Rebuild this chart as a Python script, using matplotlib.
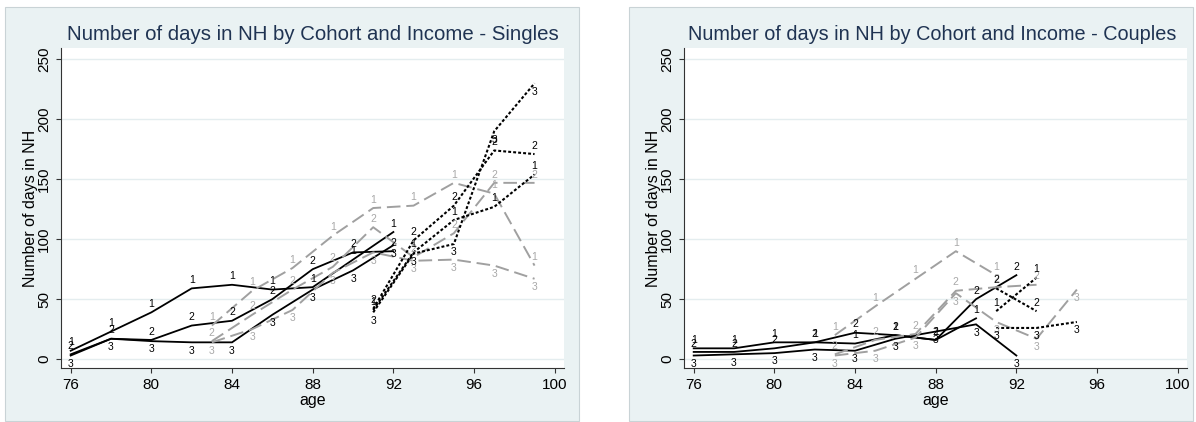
import numpy as np
import matplotlib
matplotlib.use("Agg")
import matplotlib.pyplot as plt
from matplotlib.patches import Rectangle

# ---------------- data ----------------
ages_c1 = [76, 78, 80, 82, 84, 86, 88, 90, 92]
ages_c2 = [83, 85, 87, 89, 91, 93, 95, 97, 99]
ages_c3 = [91, 93, 95, 97, 99]

# Singles
s_c1_inc1 = [7, 23, 39, 59, 62, 58, 60, 83, 106]
s_c1_inc2 = [4, 17, 16, 28, 32, 50, 75, 89, 90]
s_c1_inc3 = [3, 17, 15, 14, 14, 37, 58, 74, 95]
s_c2_inc1 = [28, 57, 76, 103, 126, 128, 147, 138, 78]
s_c2_inc2 = [15, 37, 58, 77, 110, 85, 105, 147, 147]
s_c2_inc3 = [14, 25, 41, 72, 89, 82, 83, 78, 67]
s_c3_inc1 = [41, 89, 116, 127, 154]
s_c3_inc2 = [42, 99, 128, 174, 171]
s_c3_inc3 = [39, 88, 96, 190, 230]

# Couples (NaN = no observation)
nan = np.nan
c_c1_inc1 = [9, 9, 14, 14, 13, 20, 16, 34, nan]
c_c1_inc2 = [6, 6, 9, 14, 22, 20, 16, 50, 70]
c_c1_inc3 = [3, 4, 5, 8, 7, 17, 23, 29, 3]
c_c2_inc1 = [20, 44, 67, 90, 70, nan, nan, nan, nan]
c_c2_inc2 = [4, 16, 21, 57, 60, 62, nan, nan, nan]
c_c2_inc3 = [3, 7, 18, 55, 31, 17, 58, nan, nan]
c_c3_inc1 = [40, 68, nan, nan, nan]
c_c3_inc2 = [59, 40, nan, nan, nan]
c_c3_inc3 = [26, 26, 31, nan, nan]

titles = ["Number of days in NH by Cohort and Income - Singles",
          "Number of days in NH by Cohort and Income - Couples"]
x_ticks = [76, 80, 84, 88, 92, 96, 100]
y_ticks = [0, 50, 100, 150, 200, 250]
income_labels = ["1", "2", "3"]

# ---------------- style ----------------
plt.rcParams['font.family'] = ['Liberation Sans', 'DejaVu Sans']
W, H = 1196, 422
fig = plt.figure(figsize=(W / 100, H / 100), dpi=100)
fig.patch.set_facecolor('white')

REGION = '#EAF2F3'
GRID = '#E4EDEF'
TITLE_C = '#1F3352'
GRAY_LINE = '#A0A0A0'
GRAY_LAB = '#A8A8A8'

styles = [
    dict(color='black', lw=1.3, ls='-', lab='black'),
    dict(color=GRAY_LINE, lw=1.4, ls=(0, (7.0, 3.0)), lab=GRAY_LAB),
    dict(color='black', lw=1.5, ls=(0, (1.4, 1.0)), lab='black'),
]

def fx(px):
    return px / W

def fy(py):
    return 1 - py / H

panels = [
    dict(region=(5, 7, 579, 421), plot=(61, 48.3, 564, 368),
         title_x=312.5, title_size=14.7,
         data=[(ages_c1, [s_c1_inc1, s_c1_inc2, s_c1_inc3]),
               (ages_c2, [s_c2_inc1, s_c2_inc2, s_c2_inc3]),
               (ages_c3, [s_c3_inc1, s_c3_inc2, s_c3_inc3])]),
    dict(region=(629, 7, 1193, 421), plot=(684, 48.3, 1187, 368),
         title_x=932.5, title_size=14.3,
         data=[(ages_c1, [c_c1_inc1, c_c1_inc2, c_c1_inc3]),
               (ages_c2, [c_c2_inc1, c_c2_inc2, c_c2_inc3]),
               (ages_c3, [c_c3_inc1, c_c3_inc2, c_c3_inc3])]),
]

for pi, p in enumerate(panels):
    rx0, ry0, rx1, ry1 = p['region']
    rect = Rectangle((fx(rx0), fy(ry1)), fx(rx1 - rx0), (ry1 - ry0) / H,
                     transform=fig.transFigure, facecolor=REGION,
                     edgecolor='#C9D3D6', lw=0.8, zorder=-1)
    fig.add_artist(rect)
    px0, py0, px1, py1 = p['plot']
    ax = fig.add_axes([fx(px0), fy(py1), fx(px1 - px0), (py1 - py0) / H])
    ax.set_facecolor('white')
    ax.set_xlim(75.52, 100.46)
    ax.set_ylim(-7.4, 259.2)
    ax.set_yticks(y_ticks)
    ax.set_xticks(x_ticks)
    ax.set_yticklabels([str(v) for v in y_ticks], rotation=90, va='center')
    ax.grid(axis='y', color=GRID, lw=1.0)
    ax.set_axisbelow(True)
    for s in ['top', 'right']:
        ax.spines[s].set_visible(False)
    for s in ['left', 'bottom']:
        ax.spines[s].set_color('#333333')
        ax.spines[s].set_linewidth(0.8)
    ax.tick_params(direction='out', length=3.6, width=0.8, color='#333333',
                   labelsize=11, labelcolor='black')
    ax.tick_params(axis='y', pad=3.5)
    ax.tick_params(axis='x', pad=3.5)
    ax.set_ylabel("Number of days in NH", fontsize=11.5)
    ax.set_xlabel("age", fontsize=11.5)
    ax.yaxis.set_label_coords(-0.045, 0.5)
    ax.xaxis.set_label_coords(0.5, -0.078)

    for ci, (ages, series) in enumerate(p['data']):
        st = styles[ci]
        for ii, vals in enumerate(series):
            ax.plot(ages, vals, color=st['color'], lw=st['lw'], ls=st['ls'],
                    solid_joinstyle='miter', zorder=3)
            off = -6.0 if ii == 2 else 6.0
            for a, v in zip(ages, vals):
                if v is None or (isinstance(v, float) and np.isnan(v)):
                    continue
                ax.annotate(income_labels[ii], (a, v), xytext=(0, off),
                            textcoords='offset points', ha='center', va='center',
                            fontsize=7.5, color=st['lab'], zorder=4)

    fig.text(fx(p['title_x']), fy(35), titles[pi], ha='center', va='center',
             fontsize=p['title_size'], color=TITLE_C)

fig.savefig('out.png', dpi=100)
